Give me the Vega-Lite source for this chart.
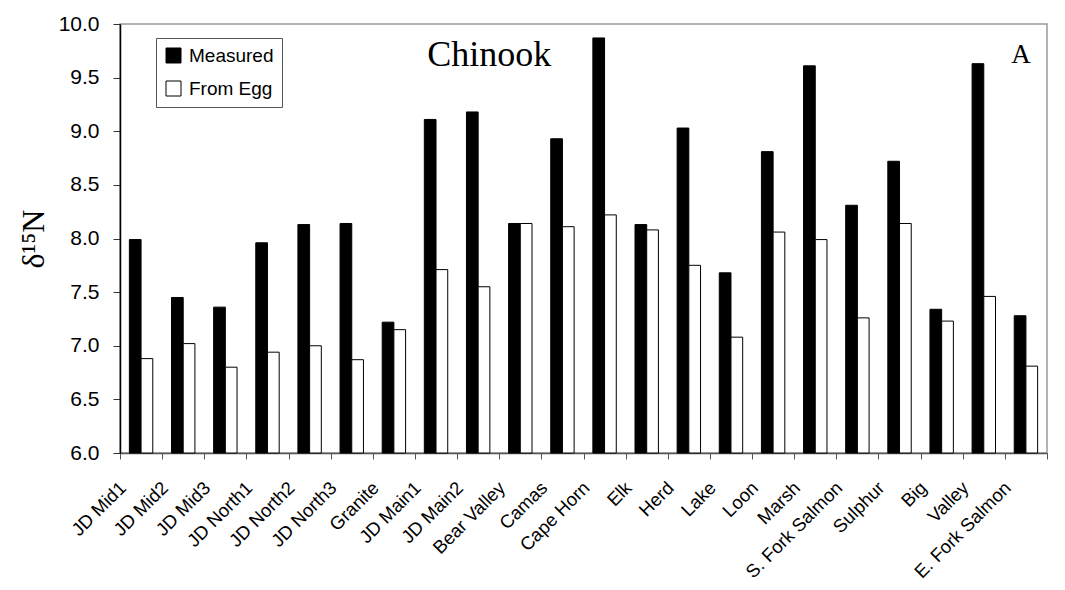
{
  "$schema": "https://vega.github.io/schema/vega-lite/v6.json",
  "width": 927,
  "height": 429,
  "autosize": "none",
  "padding": {"left": 120, "top": 24, "right": 18, "bottom": 137},
  "background": "white",
  "config": {
    "view": {"stroke": "#999999", "strokeWidth": 1.5},
    "axis": {"grid": false, "labelColor": "black", "labelFont": "Liberation Sans", "titleColor": "black"}
  },
  "data": {
    "values": [
      {"site": "JD Mid1", "series": "Measured", "value": 7.99},
      {"site": "JD Mid1", "series": "From Egg", "value": 6.88},
      {"site": "JD Mid2", "series": "Measured", "value": 7.45},
      {"site": "JD Mid2", "series": "From Egg", "value": 7.02},
      {"site": "JD Mid3", "series": "Measured", "value": 7.36},
      {"site": "JD Mid3", "series": "From Egg", "value": 6.80},
      {"site": "JD North1", "series": "Measured", "value": 7.96},
      {"site": "JD North1", "series": "From Egg", "value": 6.94},
      {"site": "JD North2", "series": "Measured", "value": 8.13},
      {"site": "JD North2", "series": "From Egg", "value": 7.00},
      {"site": "JD North3", "series": "Measured", "value": 8.14},
      {"site": "JD North3", "series": "From Egg", "value": 6.87},
      {"site": "Granite", "series": "Measured", "value": 7.22},
      {"site": "Granite", "series": "From Egg", "value": 7.15},
      {"site": "JD Main1", "series": "Measured", "value": 9.11},
      {"site": "JD Main1", "series": "From Egg", "value": 7.71},
      {"site": "JD Main2", "series": "Measured", "value": 9.18},
      {"site": "JD Main2", "series": "From Egg", "value": 7.55},
      {"site": "Bear Valley", "series": "Measured", "value": 8.14},
      {"site": "Bear Valley", "series": "From Egg", "value": 8.14},
      {"site": "Camas", "series": "Measured", "value": 8.93},
      {"site": "Camas", "series": "From Egg", "value": 8.11},
      {"site": "Cape Horn", "series": "Measured", "value": 9.87},
      {"site": "Cape Horn", "series": "From Egg", "value": 8.22},
      {"site": "Elk", "series": "Measured", "value": 8.13},
      {"site": "Elk", "series": "From Egg", "value": 8.08},
      {"site": "Herd", "series": "Measured", "value": 9.03},
      {"site": "Herd", "series": "From Egg", "value": 7.75},
      {"site": "Lake", "series": "Measured", "value": 7.68},
      {"site": "Lake", "series": "From Egg", "value": 7.08},
      {"site": "Loon", "series": "Measured", "value": 8.81},
      {"site": "Loon", "series": "From Egg", "value": 8.06},
      {"site": "Marsh", "series": "Measured", "value": 9.61},
      {"site": "Marsh", "series": "From Egg", "value": 7.99},
      {"site": "S. Fork Salmon", "series": "Measured", "value": 8.31},
      {"site": "S. Fork Salmon", "series": "From Egg", "value": 7.26},
      {"site": "Sulphur", "series": "Measured", "value": 8.72},
      {"site": "Sulphur", "series": "From Egg", "value": 8.14},
      {"site": "Big", "series": "Measured", "value": 7.34},
      {"site": "Big", "series": "From Egg", "value": 7.23},
      {"site": "Valley", "series": "Measured", "value": 9.63},
      {"site": "Valley", "series": "From Egg", "value": 7.46},
      {"site": "E. Fork Salmon", "series": "Measured", "value": 7.28},
      {"site": "E. Fork Salmon", "series": "From Egg", "value": 6.81}
    ]
  },
  "layer": [
    {
      "mark": {"type": "bar", "stroke": "black", "strokeWidth": 1},
      "encoding": {
        "x": {
          "field": "site",
          "type": "nominal",
          "scale": {
            "domain": ["JD Mid1", "JD Mid2", "JD Mid3", "JD North1", "JD North2", "JD North3", "Granite", "JD Main1", "JD Main2", "Bear Valley", "Camas", "Cape Horn", "Elk", "Herd", "Lake", "Loon", "Marsh", "S. Fork Salmon", "Sulphur", "Big", "Valley", "E. Fork Salmon"],
            "paddingInner": 0,
            "paddingOuter": 0
          },
          "axis": {
            "title": null,
            "labelAngle": -45,
            "labelFontSize": 18.5,
            "labelPadding": 19,
            "labelOffset": -25,
            "tickBand": "extent",
            "tickSize": 6,
            "tickColor": "#555555",
            "domainColor": "#555555",
            "domainWidth": 1.5
          }
        },
        "xOffset": {
          "field": "series",
          "type": "nominal",
          "sort": ["Measured", "From Egg"],
          "scale": {"paddingInner": 0, "paddingOuter": 0.8}
        },
        "y": {
          "field": "value",
          "type": "quantitative",
          "scale": {"domain": [6, 10], "nice": false, "zero": false},
          "axis": {
            "title": "δ¹⁵N",
            "titleFont": "Liberation Serif",
            "titleFontSize": 32,
            "titleFontWeight": "normal",
            "titlePadding": 8,
            "values": [6, 6.5, 7, 7.5, 8, 8.5, 9, 9.5, 10],
            "format": ".1f",
            "labelFontSize": 21,
            "labelPadding": 14,
            "tickSize": 7,
            "tickColor": "#333333",
            "domainColor": "black",
            "domainWidth": 1.5
          }
        },
        "y2": {"datum": 6},
        "fill": {
          "field": "series",
          "type": "nominal",
          "scale": {"domain": ["Measured", "From Egg"], "range": ["black", "white"]},
          "legend": {
            "title": null,
            "orient": "none",
            "legendX": 36,
            "legendY": 14,
            "symbolType": "square",
            "symbolSize": 225,
            "symbolStrokeColor": "black",
            "symbolStrokeWidth": 1,
            "labelFont": "Liberation Sans",
            "labelFontSize": 19,
            "labelColor": "black",
            "labelOffset": 6,
            "rowPadding": 13,
            "padding": 8,
            "fillColor": "white",
            "strokeColor": "#555555"
          }
        }
      }
    },
    {
      "data": {"values": [{"label": "Chinook", "site": "JD Main2", "value": 9.61}]},
      "mark": {"type": "text", "font": "Liberation Serif", "fontSize": 36, "color": "black", "baseline": "alphabetic", "align": "center", "dx": 11},
      "encoding": {
        "text": {"field": "label"},
        "x": {"field": "site", "type": "nominal"},
        "y": {"field": "value", "type": "quantitative"}
      }
    },
    {
      "data": {"values": [{"label": "A", "site": "E. Fork Salmon", "value": 9.64}]},
      "mark": {"type": "text", "font": "Liberation Serif", "fontSize": 27, "color": "black", "baseline": "alphabetic", "align": "center", "dx": -5},
      "encoding": {
        "text": {"field": "label"},
        "x": {"field": "site", "type": "nominal"},
        "y": {"field": "value", "type": "quantitative"}
      }
    }
  ]
}
